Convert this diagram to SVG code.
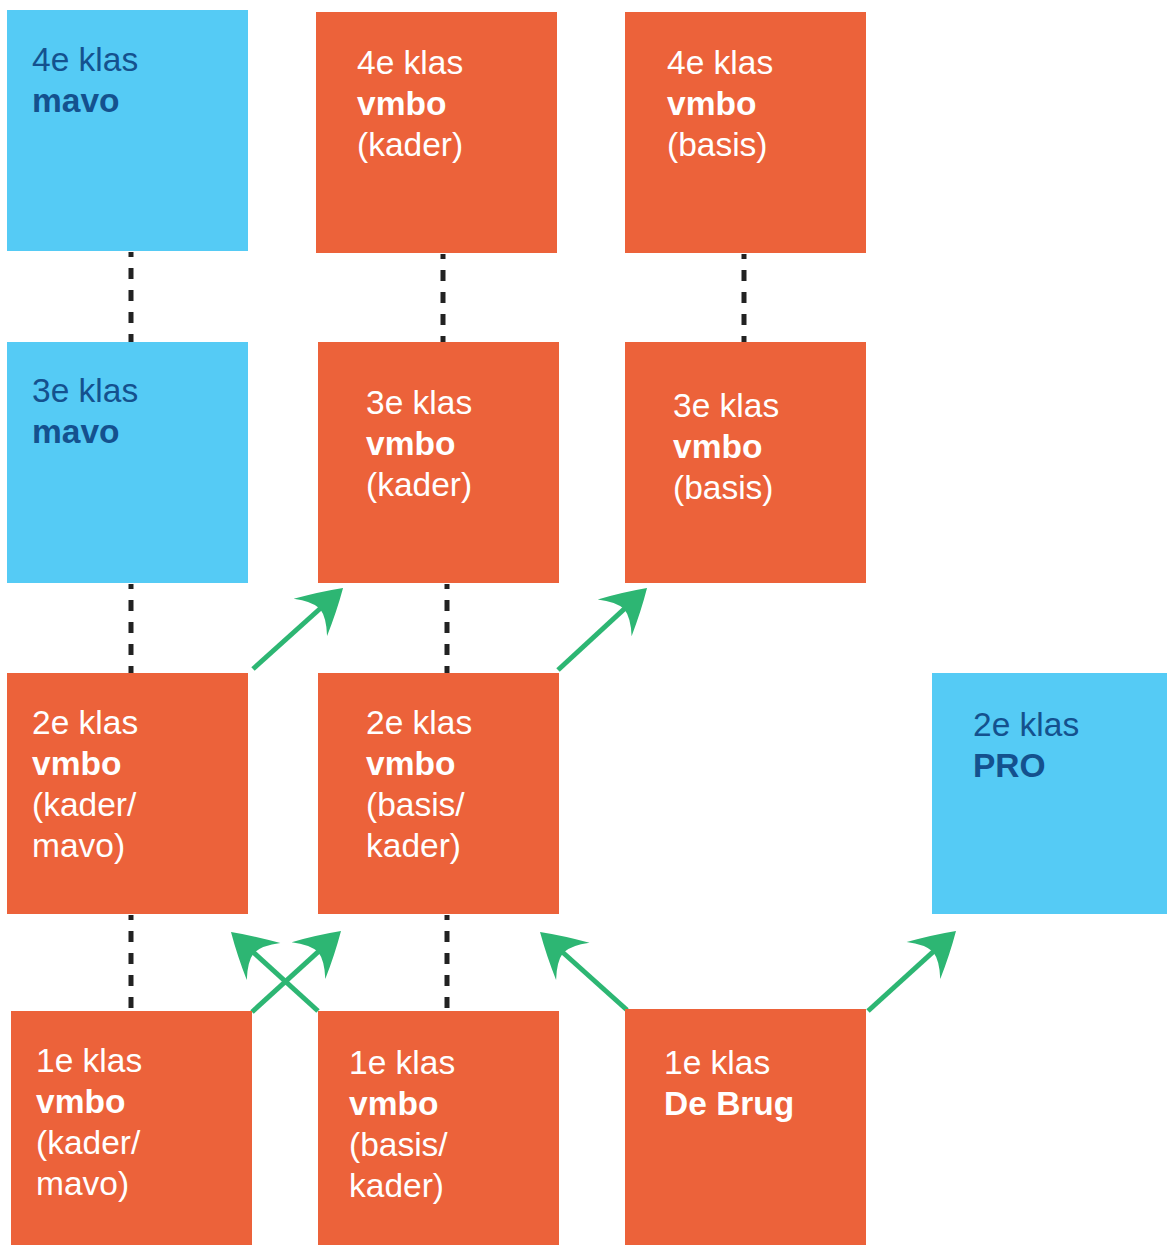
<svg xmlns="http://www.w3.org/2000/svg" width="1167" height="1245" viewBox="0 0 1167 1245">
<style>
.o{fill:#EC623A}
.b{fill:#55CBF5}
text{font-family:"Liberation Sans",Arial,sans-serif;font-size:33.5px}
.tw{fill:#FFFFFF}
.tb{fill:#14518E}
.bold{font-weight:bold}
.dash{stroke:#222222;stroke-width:5;stroke-dasharray:11 11;fill:none}
.arr{stroke:#2DB673;stroke-width:5;fill:none;marker-end:url(#ah)}
</style>
<defs>
<marker id="ah" markerUnits="userSpaceOnUse" viewBox="-50 -30 60 60" markerWidth="60" markerHeight="60" refX="-15" refY="0" orient="auto">
<path d="M0,0 Q-20,-13 -44,-25 Q-32,-11 -31,0 Q-32,11 -44,25 Q-20,13 0,0 Z" fill="#2DB673"/>
</marker>
</defs>
<rect width="1167" height="1245" fill="#FFFFFF"/>
<g id="connectors">
<line class="dash" x1="131" y1="252" x2="131" y2="342" stroke-dashoffset="6"/>
<line class="dash" x1="443" y1="254" x2="443" y2="342" stroke-dashoffset="6"/>
<line class="dash" x1="744" y1="254" x2="744" y2="342" stroke-dashoffset="6"/>
<line class="dash" x1="131" y1="584" x2="131" y2="673" stroke-dashoffset="6"/>
<line class="dash" x1="447" y1="584" x2="447" y2="673" stroke-dashoffset="6"/>
<line class="dash" x1="131" y1="915" x2="131" y2="1011" stroke-dashoffset="6"/>
<line class="dash" x1="447" y1="915" x2="447" y2="1011" stroke-dashoffset="6"/>
<line class="arr" x1="253" y1="669" x2="331.9" y2="598"/>
<line class="arr" x1="558" y1="670" x2="636" y2="598.2"/>
<line class="arr" x1="252" y1="1012" x2="329.9" y2="941.1"/>
<line class="arr" x1="318" y1="1011" x2="242.1" y2="942.1"/>
<line class="arr" x1="627" y1="1010" x2="551.2" y2="942"/>
<line class="arr" x1="868" y1="1011" x2="944.9" y2="941.1"/>
</g>
<g id="n4mavo">
<rect class="b" x="7" y="10" width="241" height="241"/>
<text class="tb" x="32" y="71">4e klas</text>
<text class="tb bold" x="32" y="112">mavo</text>
</g>
<g id="n4kader">
<rect class="o" x="316" y="12" width="241" height="241"/>
<text class="tw" x="357" y="74">4e klas</text>
<text class="tw bold" x="357" y="115">vmbo</text>
<text class="tw" x="357" y="156">(kader)</text>
</g>
<g id="n4basis">
<rect class="o" x="625" y="12" width="241" height="241"/>
<text class="tw" x="667" y="74">4e klas</text>
<text class="tw bold" x="667" y="115">vmbo</text>
<text class="tw" x="667" y="156">(basis)</text>
</g>
<g id="n3mavo">
<rect class="b" x="7" y="342" width="241" height="241"/>
<text class="tb" x="32" y="402">3e klas</text>
<text class="tb bold" x="32" y="443">mavo</text>
</g>
<g id="n3kader">
<rect class="o" x="318" y="342" width="241" height="241"/>
<text class="tw" x="366" y="414">3e klas</text>
<text class="tw bold" x="366" y="455">vmbo</text>
<text class="tw" x="366" y="496">(kader)</text>
</g>
<g id="n3basis">
<rect class="o" x="625" y="342" width="241" height="241"/>
<text class="tw" x="673" y="417">3e klas</text>
<text class="tw bold" x="673" y="458">vmbo</text>
<text class="tw" x="673" y="499">(basis)</text>
</g>
<g id="n2kadermavo">
<rect class="o" x="7" y="673" width="241" height="241"/>
<text class="tw" x="32" y="734">2e klas</text>
<text class="tw bold" x="32" y="775">vmbo</text>
<text class="tw" x="32" y="816">(kader/</text>
<text class="tw" x="32" y="857">mavo)</text>
</g>
<g id="n2basiskader">
<rect class="o" x="318" y="673" width="241" height="241"/>
<text class="tw" x="366" y="734">2e klas</text>
<text class="tw bold" x="366" y="775">vmbo</text>
<text class="tw" x="366" y="816">(basis/</text>
<text class="tw" x="366" y="857">kader)</text>
</g>
<g id="n2pro">
<rect class="b" x="932" y="673" width="235" height="241"/>
<text class="tb" x="973" y="736">2e klas</text>
<text class="tb bold" x="973" y="777">PRO</text>
</g>
<g id="n1kadermavo">
<rect class="o" x="11" y="1011" width="241" height="234"/>
<text class="tw" x="36" y="1072">1e klas</text>
<text class="tw bold" x="36" y="1113">vmbo</text>
<text class="tw" x="36" y="1154">(kader/</text>
<text class="tw" x="36" y="1195">mavo)</text>
</g>
<g id="n1basiskader">
<rect class="o" x="318" y="1011" width="241" height="234"/>
<text class="tw" x="349" y="1074">1e klas</text>
<text class="tw bold" x="349" y="1115">vmbo</text>
<text class="tw" x="349" y="1156">(basis/</text>
<text class="tw" x="349" y="1197">kader)</text>
</g>
<g id="n1debrug">
<rect class="o" x="625" y="1009" width="241" height="236"/>
<text class="tw" x="664" y="1074">1e klas</text>
<text class="tw bold" x="664" y="1115">De Brug</text>
</g>
</svg>
